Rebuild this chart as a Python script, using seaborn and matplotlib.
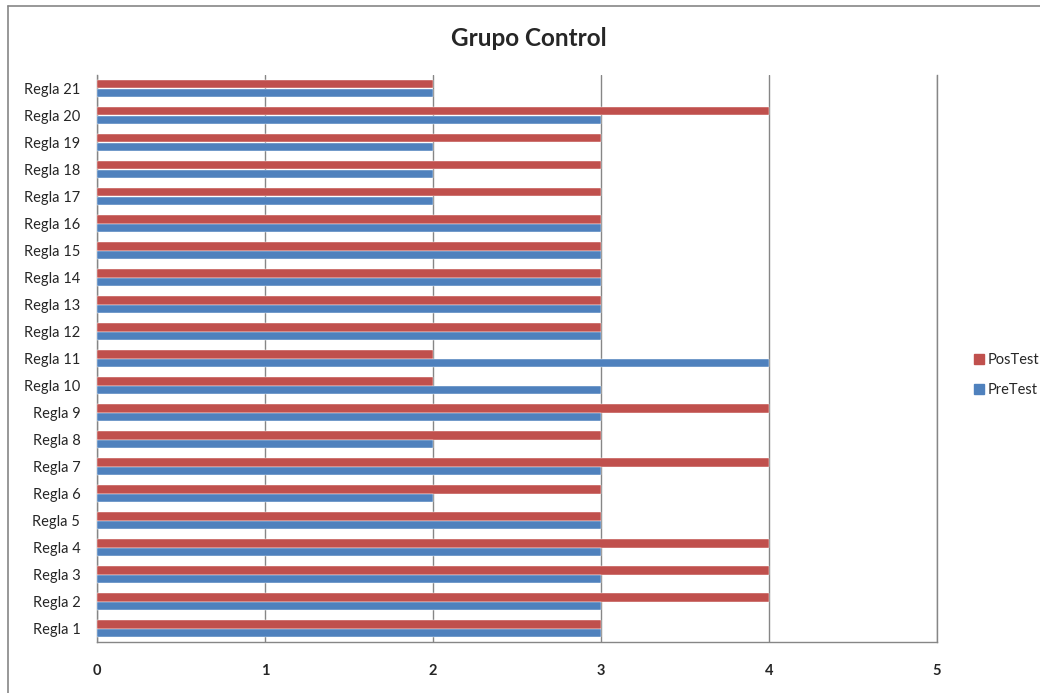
import pandas as pd
import numpy as np
import matplotlib.pyplot as plt
import seaborn as sns
from matplotlib.lines import Line2D

# data, Regla 1 .. Regla 21
reglas = [f'Regla {i}' for i in range(1, 22)]
pretest = [3, 3, 3, 3, 3, 2, 3, 2, 3, 3, 4, 3, 3, 3, 3, 3, 2, 2, 2, 3, 2]
postest = [3, 4, 4, 4, 3, 3, 4, 3, 4, 2, 2, 3, 3, 3, 3, 3, 3, 3, 3, 4, 2]

df = pd.DataFrame({
    'regla': reglas * 2,
    'valor': postest + pretest,
    'serie': ['PosTest'] * len(reglas) + ['PreTest'] * len(reglas),
})

sns.set_style('white')
plt.rcParams['font.family'] = ['Lato', 'DejaVu Sans']

fig = plt.figure(figsize=(10.4, 6.93), dpi=100)
ax = fig.add_axes([97 / 1040, 1 - 642 / 693, 840 / 1040, 567 / 693])

palette = {'PosTest': '#C0504D', 'PreTest': '#4F81BD'}
sns.barplot(data=df, y='regla', x='valor', hue='serie', orient='h',
            order=reglas[::-1], hue_order=['PosTest', 'PreTest'],
            palette=palette, width=0.6, saturation=1,
            edgecolor='white', linewidth=0.3, ax=ax, legend=False, zorder=3)

ax.set_xlim(0, 5)
ax.set_xticks(range(0, 6))
ax.set_ylim(20.5, -0.5)
ax.grid(axis='x', color='#868686', linewidth=1, zorder=0)
ax.set_axisbelow(True)
ax.set_xlabel('')
ax.set_ylabel('')
ax.spines['top'].set_visible(False)
for s in ['left', 'bottom', 'right']:
    ax.spines[s].set_color('#868686')
    ax.spines[s].set_linewidth(1)
ax.tick_params(axis='both', length=0)
ax.tick_params(axis='x', pad=16, labelsize=10.5)
ax.tick_params(axis='y', pad=12, labelsize=10.5)
for t in ax.get_xticklabels():
    t.set_fontweight('bold')

fig.text(0.508, 1 - 38 / 693, 'Grupo Control', ha='center', va='center',
         fontsize=17.5, fontweight='bold')

handles = [Line2D([], [], marker='s', linestyle='', markersize=7,
                  color=palette[k]) for k in ['PosTest', 'PreTest']]
fig.legend(handles, ['PosTest', 'PreTest'], loc='center left',
           bbox_to_anchor=(0.922, 1 - 375 / 693), frameon=False,
           fontsize=10.5, handletextpad=0.1, labelspacing=1.1, handlelength=1)

# outer chart border (top and left edges visible)
fig.add_artist(Line2D([8 / 1040, 1], [1 - 6 / 693, 1 - 6 / 693],
                      color='#868686', linewidth=1.2, transform=fig.transFigure))
fig.add_artist(Line2D([8 / 1040, 8 / 1040], [0, 1 - 6 / 693],
                      color='#868686', linewidth=1.2, transform=fig.transFigure))

fig.savefig('out.png', dpi=100)
